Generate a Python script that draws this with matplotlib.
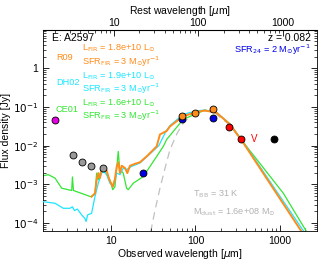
import matplotlib
matplotlib.use("Agg")
import matplotlib.pyplot as plt
import numpy as np

plt.rcParams['font.family'] = ['Liberation Sans', 'DejaVu Sans']
plt.rcParams['mathtext.fontset'] = 'dejavusans'

z = 0.082

# photometry
magenta_wl = [2.2]
magenta_f = [0.047]
irac_wl = [3.6, 4.5, 5.8, 8.0]
irac_f = [5.8e-3, 3.8e-3, 3.0e-3, 2.7e-3]
mips_wl = [24.0, 70.0, 160.0]
mips_f = [2.0e-3, 0.050, 0.053]
pacs_wl = [70.0, 100.0, 160.0]
pacs_f = [0.060, 0.072, 0.090]
spire_wl = [250.0, 350.0]
spire_f = [0.031, 0.015]
spire_lim_wl = [500.0]
spire_lim_f = [0.015]
submm_wl = [850.0]
submm_f = [0.015]

# templates (wavelength in um, log10 flux in Jy)
r09_wl = [5.9, 6.47, 6.78, 7.08, 7.41, 7.76, 8.27, 8.89, 9.55, 10.5, 11.1, 11.7, 12.2, 12.8,
          13.4, 14.7, 15.6, 16.8, 19.2, 22.0, 26.4, 34.7, 38.0, 45.6, 50.0, 71.6, 103, 129,
          178, 256, 366, 1807]
r09_lf = [-3.32, -3.23, -2.88, -2.71, -2.84, -2.58, -2.54, -2.64, -2.88, -3.06, -2.88, -2.54,
          -2.43, -2.71, -2.52, -2.58, -2.71, -2.52, -2.47, -2.43, -2.28, -2.02, -1.71, -1.62,
          -1.50, -1.24, -1.13, -1.09, -1.15, -1.45, -1.92, -4.23]

dh02_wl = [1.58, 2.18, 2.73, 3.27, 3.5, 3.7, 4.0, 4.5, 4.9, 5.08, 5.3, 5.9, 6.47, 7.08, 7.76,
           8.27, 8.89, 9.7, 10.7, 11.7, 12.8, 13.98, 15.3, 17.4, 22.0, 28.4, 36.8, 45.0, 50.0,
           71.6, 103, 129, 178, 256, 366, 1925]
dh02_lf = [-3.45, -3.49, -3.62, -3.62, -3.58, -3.68, -3.64, -3.79, -3.88, -3.96, -3.79, -3.75,
           -3.32, -2.97, -2.71, -2.67, -2.75, -2.97, -3.06, -2.71, -2.75, -2.58, -2.62, -2.54,
           -2.45, -2.23, -2.00, -1.62, -1.48, -1.19, -1.10, -1.08, -1.14, -1.44, -1.90, -4.23]

ce01_wl = [1.58, 1.81, 2.18, 2.61, 3.43, 3.5, 3.6, 4.7, 5.75, 6.46, 6.77, 7.1, 7.75, 8.7, 9.7,
           10.5, 11.15, 12.2, 12.7, 13.98, 15.3, 16.0, 18.4, 24.1, 31.7, 41.6, 45.6, 71.6, 129,
           178, 256, 370, 1094, 2070]
ce01_lf = [-2.78, -2.75, -2.84, -3.10, -3.16, -2.81, -3.16, -3.25, -3.32, -3.26, -2.71, -2.88,
           -2.61, -2.71, -2.88, -3.14, -3.06, -2.15, -2.62, -2.71, -3.10, -3.14, -2.97, -2.80,
           -2.41, -2.02, -1.84, -1.32, -1.08, -1.15, -1.45, -1.92, -3.23, -4.23]

bb_wl = [29.5, 33.0, 38.0, 44.0, 50.0, 60.0, 70.0, 90.0, 120.0, 160.0, 250.0, 366.0]
bb_lf = [-4.23, -3.70, -3.10, -2.55, -2.10, -1.70, -1.45, -1.20, -1.10, -1.12, -1.45, -1.92]

fig = plt.figure(figsize=(3.24, 2.63), dpi=100)
ax = fig.add_axes([43/324, 1-231/263, (317-43)/324, (231-30)/263])
ax.set_xscale('log')
ax.set_yscale('log')
ax.set_xlim(1.57, 2740)
ax.set_ylim(6.2e-5, 9.8)

c_or = '#ff8c1a'
c_cy = '#1ae6ff'
c_gr = '#33e633'

ax.plot(bb_wl, 10**np.array(bb_lf), color='#c0c0c0', lw=0.9, ls=(0, (6, 4)), zorder=1)
ax.plot(ce01_wl, 10**np.array(ce01_lf), color=c_gr, lw=0.9, zorder=2)
ax.plot(dh02_wl, 10**np.array(dh02_lf), color=c_cy, lw=0.9, zorder=3)
ax.plot(r09_wl, 10**np.array(r09_lf), color=c_or, lw=1.4, zorder=4)

mk = dict(ls='none', marker='o', ms=5, mec='black', mew=0.6, zorder=6)
ax.plot(magenta_wl, magenta_f, mfc='#e600e6', **mk)
ax.plot(irac_wl, irac_f, mfc='#999999', **mk)
ax.plot(mips_wl, mips_f, mfc='#0000e6', **mk)
ax.plot(pacs_wl, pacs_f, mfc=c_or, **mk)
ax.plot(spire_wl, spire_f, mfc='#ff0000', **mk)
ax.plot(submm_wl, submm_f, mfc='black', **mk)
for w, f in zip(spire_lim_wl, spire_lim_f):
    ax.text(w, f, 'V', color='#ff0000', fontsize=7, ha='center', va='center')


def yfmt(v, p):
    e = int(round(np.log10(v)))
    if e == 0:
        return '1'
    return r'$10^{%d}$' % e


ax.tick_params(which='both', direction='in', top=False, right=True, labelsize=7.5)
ax.tick_params(which='major', length=4, width=0.6)
ax.tick_params(which='minor', length=2, width=0.5)
ax.yaxis.set_major_locator(matplotlib.ticker.FixedLocator([1e-4, 1e-3, 1e-2, 1e-1, 1]))
ax.yaxis.set_major_formatter(matplotlib.ticker.FuncFormatter(yfmt))
ax.yaxis.set_minor_locator(matplotlib.ticker.LogLocator(base=10, subs=np.arange(2, 10), numticks=20))
ax.yaxis.set_minor_formatter(matplotlib.ticker.NullFormatter())
ax.xaxis.set_major_locator(matplotlib.ticker.FixedLocator([10, 100, 1000]))
ax.xaxis.set_major_formatter(matplotlib.ticker.FuncFormatter(lambda v, p: '%d' % v))
ax.xaxis.set_minor_formatter(matplotlib.ticker.NullFormatter())
for s in ax.spines.values():
    s.set_linewidth(0.6)

sec = ax.secondary_xaxis('top', functions=(lambda x: x / (1 + z), lambda x: x * (1 + z)))
sec.set_xscale('log')
sec.tick_params(which='both', direction='in', labelsize=7.5, pad=1.5)
sec.tick_params(which='major', length=4, width=0.6)
sec.tick_params(which='minor', length=2, width=0.5)
sec.xaxis.set_major_locator(matplotlib.ticker.FixedLocator([10, 100, 1000]))
sec.xaxis.set_major_formatter(matplotlib.ticker.FuncFormatter(lambda v, p: '%d' % v))
sec.xaxis.set_minor_locator(matplotlib.ticker.LogLocator(base=10, subs=np.arange(2, 10), numticks=20))
sec.xaxis.set_minor_formatter(matplotlib.ticker.NullFormatter())
sec.set_xlabel(r'Rest wavelength [$\mu$m]', fontsize=7.5, labelpad=2.5)

ax.set_xlabel(r'Observed wavelength [$\mu$m]', fontsize=7.5, labelpad=1)
ax.set_ylabel('Flux density [Jy]', fontsize=7.5, labelpad=1)

fs = 6.6
def T(x, y, s, c, ha='left', f=fs):
    fig.text(x/324, 1-y/263, s, color=c, fontsize=f, ha=ha, va='center')

T(52, 38, 'E: A2597', 'black', f=7.5)
T(311, 38, 'z = 0.082', 'black', ha='right', f=7.5)
T(311, 50, r'SFR$_{24}$ = 2 M$_{\odot}$yr$^{-1}$', '#0000e6', ha='right')
T(56, 57, 'R09', c_or)
T(82, 48, r'L$_{\rm FIR}$ = 1.8e+10 L$_{\odot}$', c_or)
T(82, 62, r'SFR$_{\rm FIR}$ = 3 M$_{\odot}$yr$^{-1}$', c_or)
T(56, 83, 'DH02', c_cy)
T(82, 76, r'L$_{\rm FIR}$ = 1.9e+10 L$_{\odot}$', c_cy)
T(82, 89, r'SFR$_{\rm FIR}$ = 3 M$_{\odot}$yr$^{-1}$', c_cy)
T(56, 110, 'CE01', c_gr)
T(82, 103, r'L$_{\rm FIR}$ = 1.6e+10 L$_{\odot}$', c_gr)
T(82, 116, r'SFR$_{\rm FIR}$ = 3 M$_{\odot}$yr$^{-1}$', c_gr)
T(193, 194, r'T$_{\rm BB}$ = 31 K', '#b3b3b3')
T(193, 212, r'M$_{\rm dust}$ = 1.6e+08 M$_{\odot}$', '#b3b3b3')

fig.savefig('out.png', dpi=100)
